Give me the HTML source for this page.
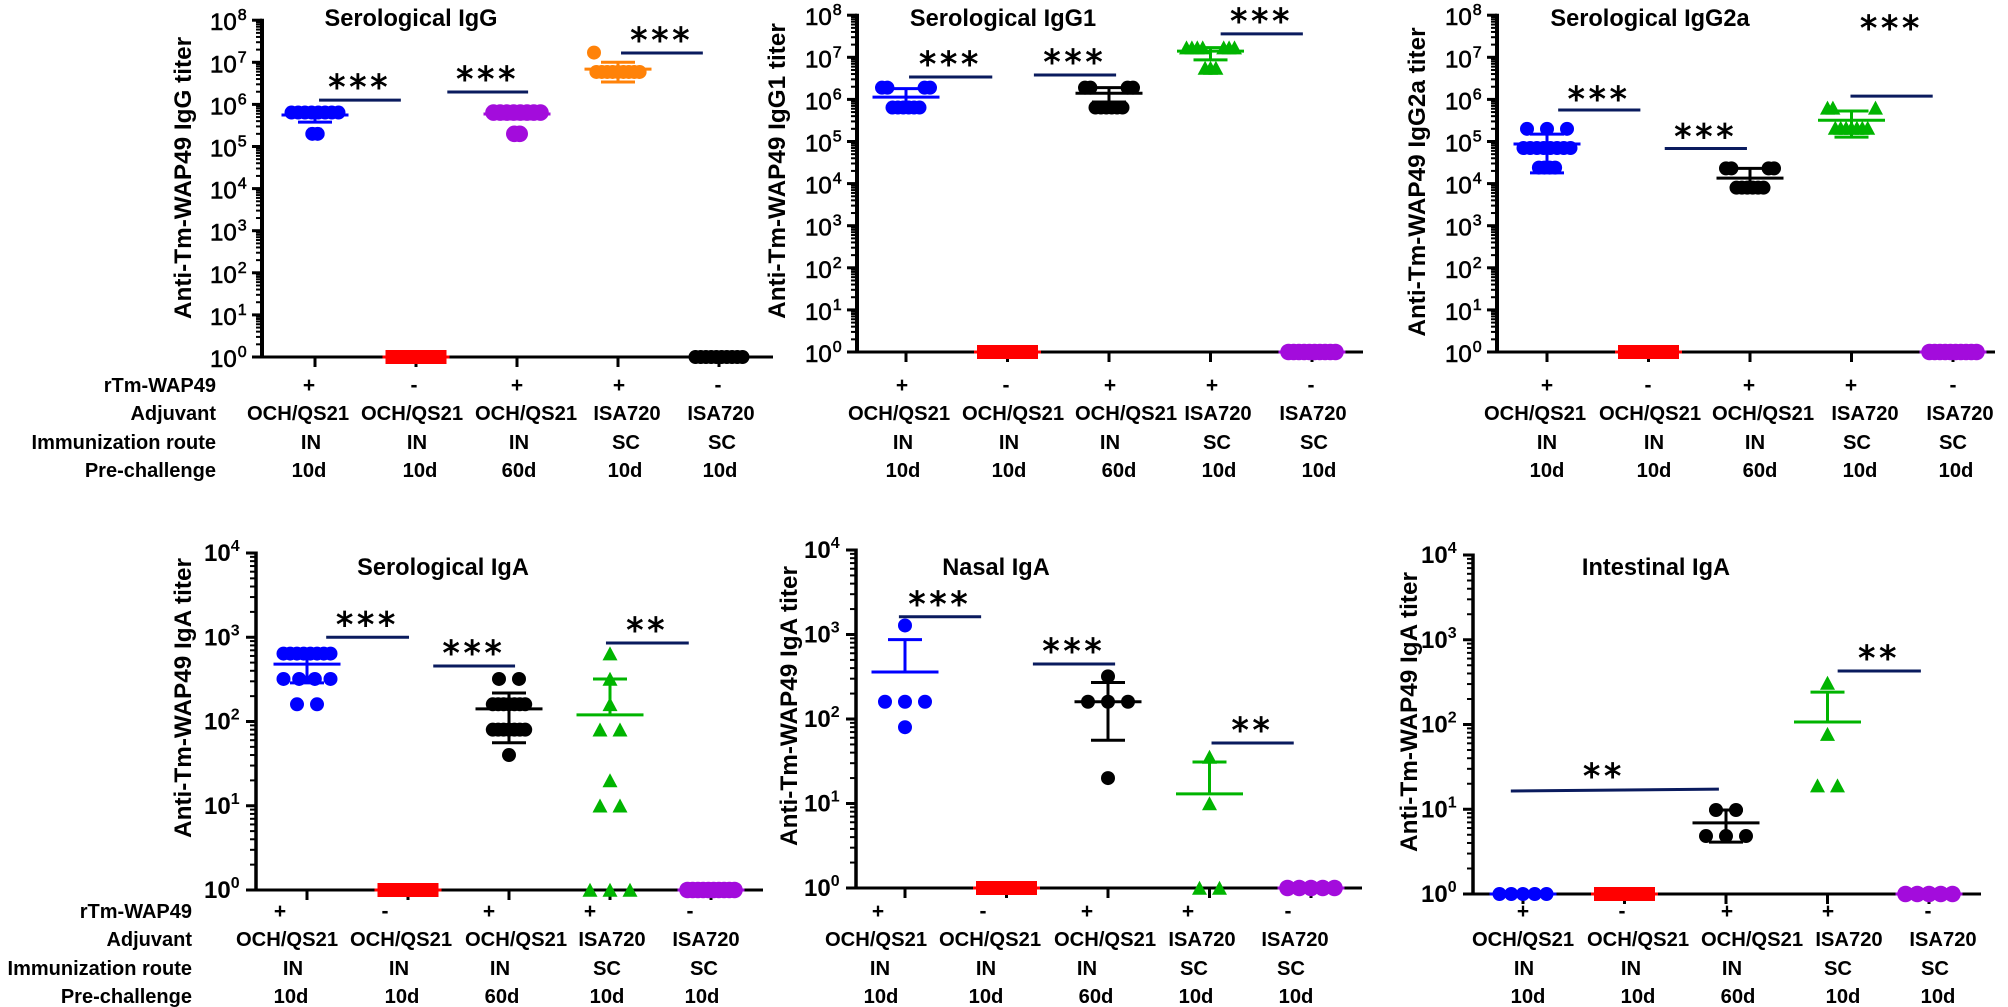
<!DOCTYPE html>
<html lang="en">
<head>
<meta charset="utf-8">
<title>Anti-Tm-WAP49 antibody titers</title>
<style>
html,body{margin:0;padding:0;background:#fff}
svg{display:block}
text{font-family:"Liberation Sans",sans-serif;fill:#000}
</style>
</head>
<body>
<svg id="figure" xmlns="http://www.w3.org/2000/svg" width="2008" height="1007" viewBox="0 0 2008 1007"></svg>
<script>
// ---------- shared category labels ----------
const rowNames = ['rTm-WAP49', 'Adjuvant', 'Immunization route', 'Pre-challenge'];
const antigenRow = ['+', '-', '+', '+', '-'];
const adjuvantRow = ['OCH/QS21', 'OCH/QS21', 'OCH/QS21', 'ISA720', 'ISA720'];
const routeRow = ['IN', 'IN', 'IN', 'SC', 'SC'];
const preChallengeRow = ['10d', '10d', '60d', '10d', '10d'];

// ---------- Serological IgG ----------
const iggValues = [
  [640000,640000,640000,640000,640000,640000,640000,640000,200000,200000],
  [1,1,1,1,1,1,1,1,1,1],
  [640000,640000,640000,640000,640000,640000,640000,640000,200000,200000],
  [17000000,5900000,5900000,5900000,5900000,5900000,5900000,5900000,5900000,5900000],
  [1,1,1,1,1,1,1,1,1,1]
];
const iggMeans = [560000,1,590000,6900000,1];
const iggHighs = [800000,null,770000,10000000,null];
const iggLows = [380000,null,450000,3400000,null];
const iggSplit = [[],[],[],[17000000],[]];
const iggPack = [[200000],[],[200000],[5900000],[]];
const iggSig = [[0.04,0.85,1260000,1260000,'***'],[1.31,2.11,1970000,1970000,'***'],[3.03,3.84,16600000,16600000,'***']];

// ---------- Serological IgG1 ----------
const igg1Values = [
  [1900000,1900000,1900000,1900000,640000,640000,640000,640000,640000,640000],
  [1,1,1,1,1,1,1,1,1,1],
  [1900000,1900000,1900000,1900000,640000,640000,640000,640000,640000,640000],
  [17000000,17000000,17000000,17000000,17000000,17000000,17000000,5600000,5600000,5600000],
  [1,1,1,1,1,1,1,1,1,1]
];
const igg1Means = [1130000,1,1400000,14000000,1];
const igg1Highs = [1800000,null,1900000,17000000,null];
const igg1Lows = [740000,null,870000,8700000,null];
const igg1Split = [[1900000],[],[1900000],[17000000],[]];
const igg1Pack = [[640000],[],[640000],[5600000],[]];
const igg1Sig = [[0.03,0.85,3400000,3400000,'***'],[1.26,2.07,3800000,3800000,'***'],[3.1,3.91,36000000,36000000,'***']];

// ---------- Serological IgG2a ----------
const igg2aValues = [
  [200000,200000,200000,70000,70000,70000,70000,70000,70000,70000,70000,24000,24000,24000,24000],
  [1,1,1,1,1,1,1,1,1,1],
  [23000,23000,23000,23000,8000,8000,8000,8000,8000,8000],
  [630000,630000,630000,210000,210000,210000,210000,210000,210000,210000],
  [1,1,1,1,1,1,1,1,1,1]
];
const igg2aMeans = [87000,1,13500,320000,1];
const igg2aHighs = [150000,null,23000,530000,null];
const igg2aLows = [18000,null,7000,127000,null];
const igg2aSplit = [[],[],[23000],[630000],[]];
const igg2aPack = [[24000],[],[8000],[210000],[]];
const igg2aSig = [[0.11,0.92,560000,560000,'***'],[1.16,1.97,68000,68000,'***'],[2.99,3.8,1200000,1200000,'***']];
const igg2aStarLifts = [17,18,74];

// ---------- Serological IgA ----------
const seraValues = [
  [640,640,640,640,640,640,640,640,320,320,320,320,160,160],
  [1,1,1,1,1,1,1,1,1,1],
  [320,320,160,160,160,160,160,160,160,80,80,80,80,80,80,80,40],
  [640,320,160,80,80,20,10,10,1,1,1],
  [1,1,1,1,1,1,1,1,1,1]
];
const seraMeans = [480,1,141,120,1];
const seraHighs = [620,null,218,320,null];
const seraLows = [287,null,56,null,null];
const seraSplit = [[],[],[],[],[]];
const seraPack = [[],[],[160,80],[],[]];
const seraSig = [[0.19,1.01,1000,1000,'***'],[1.25,2.06,456,456,'***'],[2.96,3.78,854,854,'**']];

// ---------- Nasal IgA ----------
const nasalValues = [
  [1280,160,160,160,80],
  [1,1,1,1,1],
  [320,160,160,160,20],
  [35.5,10,1,1],
  [1,1,1,1,1]
];
const nasalMeans = [360,1,160,13,1];
const nasalHighs = [870,null,270,31,null];
const nasalLows = [null,null,56,null,null];
const nasalSplit = [[],[],[],[],[]];
const nasalPack = [[],[],[],[],[]];
const nasalSig = [[-0.06,0.75,1620,1620,'***'],[1.26,2.07,447,447,'***'],[3.02,3.83,52,52,'**']];

// ---------- Intestinal IgA ----------
const gutValues = [
  [1,1,1,1,1],
  [1,1,1,1,1],
  [9.8,9.8,4.83,4.83,4.83],
  [309,77,19,19],
  [1,1,1,1,1]
];
const gutMeans = [1,1,6.9,107,1];
const gutHighs = [null,null,9.8,241,null];
const gutLows = [null,null,4.1,null,null];
const gutSplit = [[],[],[],[],[]];
const gutPack = [[],[],[],[],[]];
const gutSig = [[-0.12,1.93,16.4,17.3,'**',0.78],[3.1,3.92,428,428,'**']];

// ---------- marker styles ----------
const BLUE = '#0000ff', RED = '#ff0000', BLACK = '#000000', PURPLE = '#a30cdc', ORANGE = '#ff8208', GREEN = '#00b400', NAVY = '#0a1b5e';
const styleOrderA = [[BLUE,'circle'],[RED,'square'],[PURPLE,'circle'],[ORANGE,'circle'],[BLACK,'circle']];
const styleOrderB = [[BLUE,'circle'],[RED,'square'],[BLACK,'circle'],[GREEN,'triangle'],[PURPLE,'circle']];

const SVGNS = 'http://www.w3.org/2000/svg';
const figure = document.getElementById('figure');

function make(tag, parent, attrs) {
  const node = document.createElementNS(SVGNS, tag);
  for (const key in attrs) node.setAttribute(key, attrs[key]);
  parent.appendChild(node);
  return node;
}

function line(parent, x1, y1, x2, y2, color, width, name) {
  const node = make('line', parent, {x1:x1, y1:y1, x2:x2, y2:y2, stroke:color, 'stroke-width':width});
  
  
  return node;
}

function label(parent, x, y, str, size, weight, anchor, name) {
  const node = make('text', parent, {x:x, y:y, 'font-size':size, 'font-weight':weight, 'text-anchor':anchor});
  node.textContent = str;
  
  
  return node;
}

function rowLayout(values, splitList, packList) {
  const rows = new Map();
  values.forEach(v => { if (!rows.has(v)) rows.set(v, 0); rows.set(v, rows.get(v) + 1); });
  const placed = [];
  rows.forEach((n, v) => {
    for (let i = 0; i < n; i++) {
      let off;
      if (splitList.includes(v)) {
        const leftCount = Math.ceil(n / 2);
        off = i < leftCount ? -24 + i * 5.4 : 24 - (i - leftCount) * 5.4;
      } else if (packList.includes(v)) {
        off = (i - (n - 1) / 2) * 5.4;
      } else {
        const step = n > 1 ? Math.min(20, 47 / (n - 1)) : 0;
        off = (i - (n - 1) / 2) * step;
      }
      placed.push([v, off]);
    }
  });
  return placed;
}

function drawPanel(cfg) {
  const slug = cfg.slug;
  const root = make('g', figure, {});
  
  

  const xOf = c => cfg.x0 + cfg.dx * c;
  const yOf = v => cfg.y0 - cfg.decade * Math.log10(v);

  // title
  label(root, cfg.titleX, cfg.titleY, cfg.title, 23.6, 'bold', 'middle', slug + '-title');

  // y axis title
  const yTitle = label(root, 0, 0, cfg.yTitle, 24.3, 'bold', 'middle', slug + '-y-axis-title');
  yTitle.setAttribute('transform', 'translate(' + cfg.yTitleX + ',' + cfg.yTitleY + ') rotate(-90)');

  // axes
  const axes = make('g', root, {});
  
  
  const topY = yOf(Math.pow(10, cfg.maxExp));
  line(axes, cfg.axisX, topY - 1.5, cfg.axisX, cfg.y0 + 1.5, '#000', cfg.axisWidth, slug + '-y-axis');
  line(axes, cfg.axisX - 10, cfg.y0, cfg.axisEnd, cfg.y0, '#000', 3, slug + '-x-axis');
  for (let e = 0; e <= cfg.maxExp; e++) {
    const ty = yOf(Math.pow(10, e));
    line(axes, cfg.axisX - 10, ty, cfg.axisX, ty, '#000', 3, slug + '-y-major-tick');
    const tick = make('text', axes, {x:cfg.axisX - 52, y:ty + cfg.tickBase, 'font-size':24, 'font-weight':cfg.tickWeight});
    
    
    if (cfg.tickWeight === 'normal') { tick.setAttribute('stroke', '#000'); tick.setAttribute('stroke-width', '0.6'); }
    const base = document.createElementNS(SVGNS, 'tspan');
    base.textContent = '10';
    tick.appendChild(base);
    const sup = document.createElementNS(SVGNS, 'tspan');
    sup.setAttribute('font-size', '16');
    sup.setAttribute('dy', '-10');
    sup.setAttribute('dx', cfg.tickWeight === 'normal' ? '1' : '0');
    sup.textContent = String(e);
    tick.appendChild(sup);
    if (e < cfg.maxExp) {
      for (let m = 2; m < 10; m++) {
        const my = yOf(m * Math.pow(10, e));
        line(axes, cfg.axisX - 6, my, cfg.axisX, my, '#000', 2, slug + '-y-minor-tick');
      }
    }
  }
  for (let c = 0; c < 5; c++) {
    line(axes, xOf(c), cfg.y0, xOf(c), cfg.y0 + 10, '#000', 3, slug + '-x-tick');
  }

  // table labels below axis
  const rows = [antigenRow, adjuvantRow, routeRow, preChallengeRow];
  const rowXs = [cfg.signX, cfg.adjX, cfg.routeX, cfg.preX];
  const rowSlugs = ['antigen', 'adjuvant', 'route', 'pre-challenge'];
  rows.forEach((row, r) => {
    row.forEach((str, c) => {
      label(root, rowXs[r][c], cfg.rowY[r], str, r === 0 ? 21 : 20.2, 'bold', 'middle', slug + '-' + rowSlugs[r] + '-label');
    });
    if (cfg.rowNameEnd) {
      label(root, cfg.rowNameEnd, cfg.rowY[r], rowNames[r], 20, 'bold', 'end', slug + '-' + rowSlugs[r] + '-row-name');
    }
  });

  // data groups
  cfg.values.forEach((vals, g) => {
    const color = cfg.styles[g][0], shape = cfg.styles[g][1];
    const group = make('g', root, {});
    
    
    const cx = xOf(g);
    rowLayout(vals, cfg.split[g], cfg.pack[g]).forEach(pt => {
      const px = cx + pt[1], py = yOf(pt[0]);
      let mark;
      if (shape === 'circle') {
        mark = make('circle', group, {cx:px, cy:py, r:color === PURPLE ? 8.3 : 7, fill:color});
      } else if (shape === 'square') {
        mark = make('rect', group, {x:px - 7, y:py - 7, width:14, height:14, fill:color});
      } else {
        mark = make('polygon', group, {points:(px - 7.5) + ',' + (py + 6.8) + ' ' + px + ',' + (py - 7.2) + ' ' + (px + 7.5) + ',' + (py + 6.8), fill:color});
      }
      
      
    });
    const mean = yOf(cfg.means[g]);
    const hi = cfg.highs[g], lo = cfg.lows[g];
    if (hi !== null) {
      const hy = yOf(hi);
      line(group, cx, hy, cx, mean, color, 3, slug + '-error-upper');
      line(group, cx - 17, hy, cx + 17, hy, color, 3, slug + '-error-upper-cap');
    }
    if (lo !== null) {
      const ly = yOf(lo);
      line(group, cx, mean, cx, ly, color, 3, slug + '-error-lower');
      line(group, cx - 17, ly, cx + 17, ly, color, 3, slug + '-error-lower-cap');
    }
    line(group, cx - 33.5, mean, cx + 33.5, mean, color, 3, slug + '-mean-line');
  });

  // significance bars
  cfg.sig.forEach((s, i) => {
    const bar = make('g', root, {});
    
    
    const y1 = yOf(s[2]), y2 = yOf(s[3]);
    line(bar, xOf(s[0]), y1, xOf(s[1]), y2, NAVY, 3, slug + '-significance-bar');
    const starCat = s.length > 5 ? s[5] : (s[0] + s[1]) / 2 - 0.02;
    const lift = cfg.starLifts ? cfg.starLifts[i] : 19;
    const star = make('text', bar, {x:xOf(starCat) + 2, y:Math.min(y1, y2) - lift + 17.5, 'font-size':34, 'text-anchor':'middle', 'letter-spacing':4, stroke:'#000', 'stroke-width':0.9});
    star.setAttribute('style', 'font-family:"DejaVu Sans",sans-serif');
    star.textContent = s[4];
    
    
  });
}

const topRows = [392, 420, 449, 477];
const bottomRows = [918, 946, 975, 1003];

drawPanel({slug:'serological-igg', title:'Serological IgG', yTitle:'Anti-Tm-WAP49 IgG titer',
  titleX:411, titleY:26, yTitleX:191, yTitleY:178, axisX:262, axisEnd:773, axisWidth:4, maxExp:8, tickBase:10, tickWeight:'normal',
  x0:315, dx:101, y0:357, decade:42.1, rowY:topRows, rowNameEnd:216,
  signX:[309,414,517,619,718], adjX:[298,412,526,627,721], routeX:[311,417,519,626,722], preX:[309,420,519,625,720],
  values:iggValues, means:iggMeans, highs:iggHighs, lows:iggLows, split:iggSplit, pack:iggPack, sig:iggSig, styles:styleOrderA});

drawPanel({slug:'serological-igg1', title:'Serological IgG1', yTitle:'Anti-Tm-WAP49 IgG1 titer',
  titleX:1003, titleY:26, yTitleX:785, yTitleY:171, axisX:857, axisEnd:1363, axisWidth:4, maxExp:8, tickBase:10, tickWeight:'normal',
  x0:906, dx:101.5, y0:352, decade:42.1, rowY:topRows, rowNameEnd:null,
  signX:[902,1006,1110,1212,1311], adjX:[899,1013,1126,1218,1313], routeX:[903,1009,1110,1217,1314], preX:[903,1009,1119,1219,1319],
  values:igg1Values, means:igg1Means, highs:igg1Highs, lows:igg1Lows, split:igg1Split, pack:igg1Pack, sig:igg1Sig, styles:styleOrderB});

drawPanel({slug:'serological-igg2a', title:'Serological IgG2a', yTitle:'Anti-Tm-WAP49 IgG2a titer',
  titleX:1650, titleY:26, yTitleX:1425, yTitleY:182, axisX:1497, axisEnd:1995, axisWidth:4, maxExp:8, tickBase:10, tickWeight:'normal',
  x0:1547, dx:101.5, y0:352, decade:42.1, rowY:topRows, rowNameEnd:null,
  signX:[1547,1648,1749,1851,1953], adjX:[1535,1650,1763,1865,1960], routeX:[1547,1654,1755,1857,1953], preX:[1547,1654,1760,1860,1956],
  values:igg2aValues, means:igg2aMeans, highs:igg2aHighs, lows:igg2aLows, split:igg2aSplit, pack:igg2aPack, sig:igg2aSig, starLifts:igg2aStarLifts, styles:styleOrderB});

drawPanel({slug:'serological-iga', title:'Serological IgA', yTitle:'Anti-Tm-WAP49 IgA titer',
  titleX:443, titleY:575, yTitleX:191, yTitleY:698, axisX:256, axisEnd:763, axisWidth:3.5, maxExp:4, tickBase:8, tickWeight:'bold',
  x0:307, dx:101, y0:890, decade:84.25, rowY:bottomRows, rowNameEnd:192,
  signX:[280,385,489,590,690], adjX:[287,401,516,612,706], routeX:[293,399,500,607,704], preX:[291,402,502,607,702],
  values:seraValues, means:seraMeans, highs:seraHighs, lows:seraLows, split:seraSplit, pack:seraPack, sig:seraSig, styles:styleOrderB});

drawPanel({slug:'nasal-iga', title:'Nasal IgA', yTitle:'Anti-Tm-WAP49 IgA titer',
  titleX:996, titleY:575, yTitleX:797, yTitleY:706, axisX:856, axisEnd:1362, axisWidth:3.5, maxExp:4, tickBase:8, tickWeight:'bold',
  x0:905, dx:101.5, y0:888, decade:84.5, rowY:bottomRows, rowNameEnd:null,
  signX:[878,983,1087,1188,1288], adjX:[876,990,1105,1202,1295], routeX:[880,986,1087,1194,1291], preX:[881,986,1096,1196,1296],
  values:nasalValues, means:nasalMeans, highs:nasalHighs, lows:nasalLows, split:nasalSplit, pack:nasalPack, sig:nasalSig, styles:styleOrderB});

drawPanel({slug:'intestinal-iga', title:'Intestinal IgA', yTitle:'Anti-Tm-WAP49 IgA titer',
  titleX:1656, titleY:575, yTitleX:1417, yTitleY:712, axisX:1473, axisEnd:1981, axisWidth:3.5, maxExp:4, tickBase:8, tickWeight:'bold',
  x0:1523, dx:101.5, y0:894, decade:84.75, rowY:bottomRows, rowNameEnd:null,
  signX:[1523,1622,1727,1828,1928], adjX:[1523,1638,1752,1849,1943], routeX:[1524,1631,1732,1838,1935], preX:[1528,1638,1738,1843,1938],
  values:gutValues, means:gutMeans, highs:gutHighs, lows:gutLows, split:gutSplit, pack:gutPack, sig:gutSig, styles:styleOrderB});
</script>
</body>
</html>
